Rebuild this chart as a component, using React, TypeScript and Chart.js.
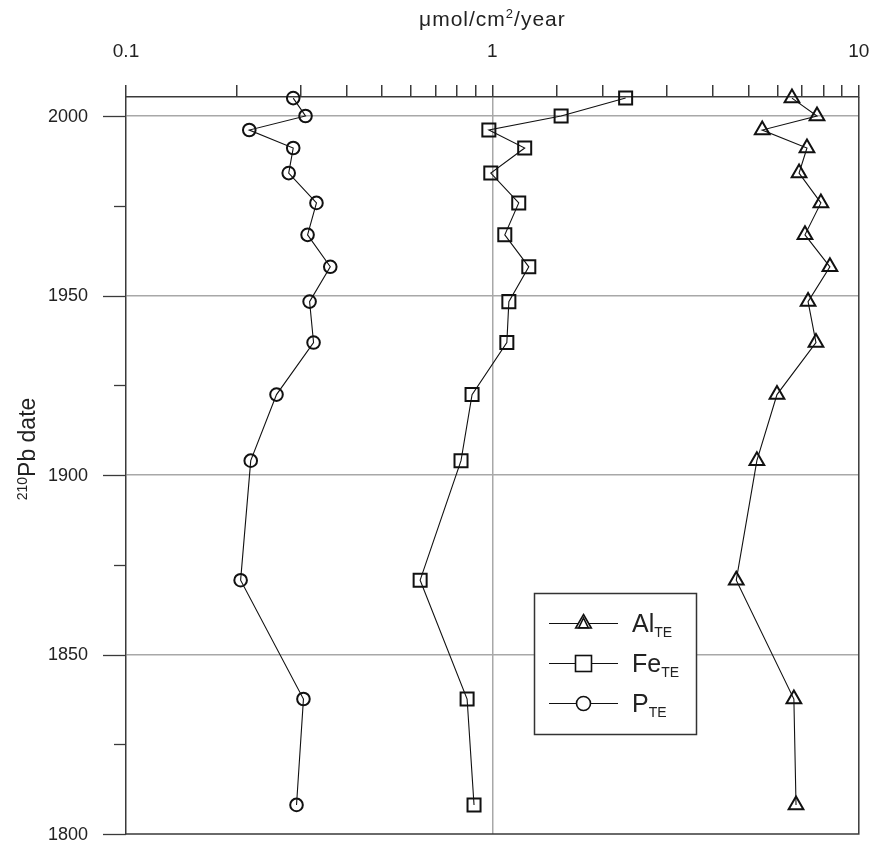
import React, { useEffect, useRef } from 'react';
import { Chart, registerables } from 'chart.js';

Chart.register(...registerables);

// ---- data ----
const years = [2005, 2000, 1996.1, 1991.1, 1984.1, 1975.8, 1966.9, 1958.0, 1948.3, 1936.9, 1922.4, 1904.0, 1870.7, 1837.6, 1808.1];
const alTE = [6.57, 7.69, 5.45, 7.22, 6.87, 7.88, 7.13, 8.34, 7.27, 7.64, 5.98, 5.27, 4.63, 6.65, 6.74];
const feTE = [2.31, 1.54, 0.978, 1.225, 0.99, 1.18, 1.081, 1.257, 1.109, 1.095, 0.88, 0.821, 0.635, 0.853, 0.891];
const pTE = [0.286, 0.309, 0.217, 0.286, 0.278, 0.331, 0.313, 0.361, 0.317, 0.325, 0.2575, 0.219, 0.2055, 0.305, 0.292];

const seriesNames = ['Al', 'Fe', 'P'];
const seriesSub = 'TE';
const xLabelValues = [0.1, 1, 10];
const xMin = 0.1;
const xMax = 10;
const yMin = 1800;
const yMax = 2005.3;
const yTickValues = [1800, 1825, 1850, 1875, 1900, 1925, 1950, 1975, 2000];
const yLabelValues = [1800, 1850, 1900, 1950, 2000];
const yGridValues = [1850, 1900, 1950, 2000];
const xGridValues = [1];
const xTitleMain = 'μmol/cm';
const xTitleSup = '2';
const xTitleEnd = '/year';
const yTitleSup = '210';
const yTitleMain = 'Pb date';

const AXIS = '#3a3a3a';
const GRID = '#a8a8a8';
const TEXT = '#222222';
const FONT = '"Liberation Sans", Arial, sans-serif';

function isPow10(v: number) {
  const l = Math.log10(v);
  return Math.abs(l - Math.round(l)) < 1e-6;
}

function drawLegendSymbol(ctx: CanvasRenderingContext2D, kind: string, x: number, y: number) {
  ctx.save();
  ctx.strokeStyle = '#111';
  ctx.lineWidth = 1.6;
  ctx.beginPath();
  if (kind === 'triangle') {
    const r = 9;
    ctx.moveTo(x, y - r);
    ctx.lineTo(x + r * 0.866, y + r * 0.5);
    ctx.lineTo(x - r * 0.866, y + r * 0.5);
    ctx.closePath();
    ctx.fillStyle = '#fff';
    ctx.fill();
    ctx.stroke();
    ctx.beginPath();
    const r2 = 5.5;
    ctx.moveTo(x, y - r2);
    ctx.lineTo(x + r2 * 0.866, y + r2 * 0.5 + 1.5);
    ctx.lineTo(x - r2 * 0.866, y + r2 * 0.5 + 1.5);
    ctx.closePath();
    ctx.stroke();
  } else if (kind === 'rect') {
    ctx.fillStyle = '#fff';
    ctx.fillRect(x - 8, y - 8, 16, 16);
    ctx.strokeRect(x - 8, y - 8, 16, 16);
  } else {
    ctx.arc(x, y, 7, 0, Math.PI * 2);
    ctx.fillStyle = '#fff';
    ctx.fill();
    ctx.stroke();
  }
  ctx.restore();
}

const overlayPlugin = {
  id: 'overlay',
  afterDraw(chart: any) {
    const ctx: CanvasRenderingContext2D = chart.ctx;
    const area = chart.chartArea;
    const yScale = chart.scales.y;
    const xScale = chart.scales.x;
    ctx.save();

    // right and bottom frame
    ctx.strokeStyle = AXIS;
    ctx.lineWidth = 1.5;
    ctx.beginPath();
    ctx.moveTo(area.right, area.top);
    ctx.lineTo(area.right, area.bottom);
    ctx.lineTo(area.left, area.bottom);
    ctx.stroke();

    // y ticks (major and minor)
    ctx.lineWidth = 1.3;
    yTickValues.forEach((v) => {
      const py = Math.round(yScale.getPixelForValue(v)) + 0.5;
      const len = yLabelValues.includes(v) ? 23 : 12;
      ctx.beginPath();
      ctx.moveTo(area.left - len, py);
      ctx.lineTo(area.left, py);
      ctx.stroke();
    });

    // y labels
    ctx.fillStyle = TEXT;
    ctx.font = `18px ${FONT}`;
    ctx.textAlign = 'right';
    ctx.textBaseline = 'middle';
    yLabelValues.forEach((v) => {
      const py = yScale.getPixelForValue(v);
      ctx.fillText(String(v), 88, py + 1);
    });

    // x title with superscript
    const cx = (xScale.left + xScale.right) / 2;
    (ctx as any).letterSpacing = '1px';
    ctx.textBaseline = 'alphabetic';
    ctx.textAlign = 'left';
    ctx.font = `21px ${FONT}`;
    const w1 = ctx.measureText(xTitleMain).width;
    const w3 = ctx.measureText(xTitleEnd).width;
    ctx.font = `13px ${FONT}`;
    const w2 = ctx.measureText(xTitleSup).width;
    const total = w1 + w2 + w3;
    let tx = cx - total / 2;
    const tb = 26;
    ctx.font = `21px ${FONT}`;
    ctx.fillText(xTitleMain, tx, tb);
    tx += w1;
    ctx.font = `13px ${FONT}`;
    ctx.fillText(xTitleSup, tx, tb - 8);
    tx += w2;
    ctx.font = `21px ${FONT}`;
    ctx.fillText(xTitleEnd, tx, tb);
    (ctx as any).letterSpacing = '0px';

    // y title rotated
    ctx.save();
    ctx.translate(35, 449);
    ctx.rotate(-Math.PI / 2);
    ctx.font = `14px ${FONT}`;
    const s1 = ctx.measureText(yTitleSup).width;
    ctx.font = `23px ${FONT}`;
    const s2 = ctx.measureText(yTitleMain).width;
    let sx = -(s1 + s2) / 2;
    ctx.font = `14px ${FONT}`;
    ctx.fillText(yTitleSup, sx, -8);
    sx += s1;
    ctx.font = `23px ${FONT}`;
    ctx.fillText(yTitleMain, sx, 0);
    ctx.restore();

    // legend
    ctx.strokeStyle = '#333';
    ctx.lineWidth = 1.5;
    ctx.fillStyle = '#fff';
    ctx.fillRect(534.5, 593.5, 162, 141);
    ctx.strokeRect(534.5, 593.5, 162, 141);
    const rows = [623, 663, 703];
    const kinds = ['triangle', 'rect', 'circle'];
    seriesNames.forEach((name, i) => {
      const ry = rows[i];
      ctx.strokeStyle = '#111';
      ctx.lineWidth = 1.2;
      ctx.beginPath();
      ctx.moveTo(549, ry + 0.5);
      ctx.lineTo(618, ry + 0.5);
      ctx.stroke();
      drawLegendSymbol(ctx, kinds[i], 583.5, ry + 0.5);
      ctx.fillStyle = TEXT;
      ctx.textAlign = 'left';
      ctx.textBaseline = 'alphabetic';
      ctx.font = `25px ${FONT}`;
      ctx.fillText(name, 632, ry + 9);
      const nw = ctx.measureText(name).width;
      ctx.font = `14px ${FONT}`;
      ctx.fillText(seriesSub, 632 + nw, ry + 14);
    });

    ctx.restore();
  },
};

function series(label: string, values: number[], style: string, radius: number) {
  return {
    label,
    data: values.map((v, i) => ({ x: v, y: years[i] })),
    showLine: true,
    borderColor: '#111',
    borderWidth: 1.1,
    pointStyle: style,
    pointRadius: radius,
    pointBorderWidth: 2,
    pointBorderColor: '#111',
    pointBackgroundColor: 'rgba(0,0,0,0)',
    clip: false as any,
    tension: 0,
  };
}

export default function App() {
  const ref = useRef<HTMLCanvasElement | null>(null);

  useEffect(() => {
    document.body.style.margin = '0';
    const canvas = ref.current;
    if (!canvas) return;
    const chart = new Chart(canvas, {
      type: 'scatter',
      data: {
        datasets: [
          series('Al', alTE, 'triangle', 8.5),
          series('Fe', feTE, 'rect', 9.2),
          series('P', pTE, 'circle', 6.3),
        ] as any,
      },
      options: {
        animation: false,
        responsive: false,
        events: [],
        layout: { padding: { left: 0, top: 0, right: 10, bottom: 12 } },
        plugins: {
          legend: { display: false },
          tooltip: { enabled: false },
          title: { display: false },
        },
        scales: {
          x: {
            type: 'logarithmic',
            position: 'top',
            min: xMin,
            max: xMax,
            afterFit: (s: any) => {
              s.height = 97;
              s.paddingLeft = 0;
              s.paddingRight = 0;
            },
            ticks: {
              autoSkip: false,
              maxRotation: 0,
              minRotation: 0,
              padding: 22,
              color: TEXT,
              font: { family: FONT, size: 19 },
              callback: (v: any) => {
                const n = Number(v);
                if (!isPow10(n)) return '';
                const m = xLabelValues.find((q) => Math.abs(q - n) / q < 1e-6);
                return m === undefined ? '' : String(m);
              },
            },
            grid: {
              drawTicks: true,
              tickLength: 12,
              tickColor: AXIS,
              lineWidth: 1.5,
              color: (c: any) =>
                c.tick && xGridValues.some((g) => Math.abs(g - c.tick.value) < 1e-9) ? GRID : 'rgba(0,0,0,0)',
            },
            border: { display: true, color: AXIS, width: 1.5 },
          },
          y: {
            type: 'linear',
            min: yMin,
            max: yMax,
            afterFit: (s: any) => {
              s.width = 126;
              s.paddingTop = 0;
              s.paddingBottom = 0;
            },
            ticks: {
              display: false,
              stepSize: 25,
              includeBounds: false,
            },
            grid: {
              drawTicks: false,
              lineWidth: 1.5,
              color: (c: any) =>
                c.tick && yGridValues.includes(Math.round(c.tick.value)) ? GRID : 'rgba(0,0,0,0)',
            },
            border: { display: true, color: AXIS, width: 1.5 },
          },
        } as any,
      },
      plugins: [overlayPlugin],
    });
    return () => chart.destroy();
  }, []);

  return (
    <div style={{ width: 870, height: 846, background: '#fff' }}>
      <canvas ref={ref} width={870} height={846} style={{ display: 'block' }} />
    </div>
  );
}
